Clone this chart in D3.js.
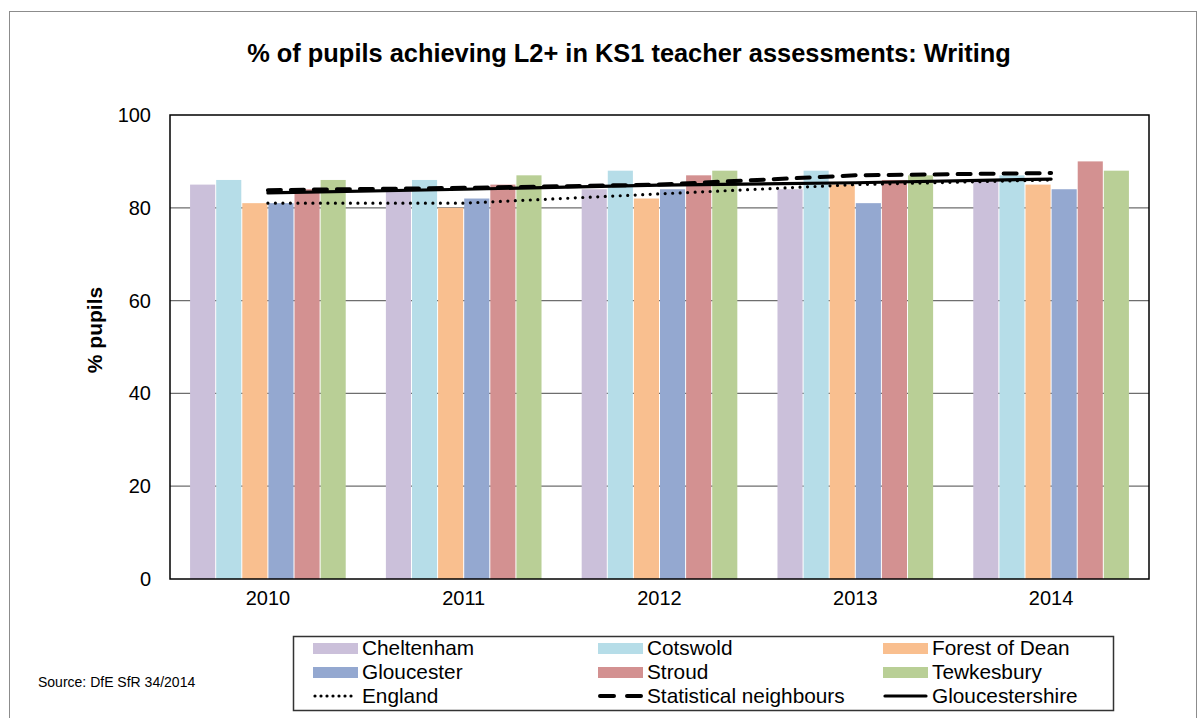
<!DOCTYPE html>
<html>
<head>
<meta charset="utf-8">
<script src="https://cdn.jsdelivr.net/npm/d3@7"></script>
<style>
  html, body { margin: 0; padding: 0; background: #fff; }
  svg { display: block; font-family: "Liberation Sans", Arial, sans-serif; }
</style>
</head>
<body>
<svg id="chart" width="1200" height="718"></svg>
<script>
// KS1 writing: % of pupils achieving level 2+ by district
const years = ["2010", "2011", "2012", "2013", "2014"];
const districts = ["Cheltenham", "Cotswold", "Forest of Dean", "Gloucester", "Stroud", "Tewkesbury"];
const cheltenham   = [85, 84, 84, 84, 86];
const cotswold     = [86, 86, 88, 88, 87];
const forestOfDean = [81, 80, 82, 85, 85];
const gloucester   = [81, 82, 84, 81, 84];
const stroud       = [84, 85, 87, 86, 90];
const tewkesbury   = [86, 87, 88, 87, 88];
const england               = [81, 81, 83, 85, 86];
const statisticalNeighbours = [83.8, 84.3, 85, 87, 87.5];
const gloucestershire       = [83.2, 84, 84.9, 85.4, 86.2];
const yTicks = [0, 20, 40, 60, 80, 100];

const districtValues = [cheltenham, cotswold, forestOfDean, gloucester, stroud, tewkesbury];
const districtColors = ["#cbc0da", "#b6dde8", "#f9bf8f", "#94a8d0", "#d39191", "#b9cf96"];
const lineSeries = [
  { name: "England", values: england, dash: "0 7.5", width: 3.2 },
  { name: "Statistical neighbours", values: statisticalNeighbours, dash: "13 10", width: 4 },
  { name: "Gloucestershire", values: gloucestershire, dash: null, width: 3.2 }
];

const FONT = "Liberation Sans, Arial, sans-serif";
const svg = d3.select("#chart");
const plot = { left: 170, right: 1149, top: 115, bottom: 579 };

// outer frame
svg.append("rect")
  .attr("x", 9.5).attr("y", 11.5).attr("width", 1187).attr("height", 720)
  .attr("fill", "none").attr("stroke", "#8c8c8c").attr("stroke-width", 1);

svg.append("text")
  .attr("x", 629).attr("y", 62)
  .attr("text-anchor", "middle")
  .attr("font-size", 25.4).attr("font-weight", "bold")
  .text("% of pupils achieving L2+ in KS1 teacher assessments: Writing");

const x0 = d3.scaleBand().domain(years).range([plot.left, plot.right]).paddingInner(0.2).paddingOuter(0.1);
const x1 = d3.scaleBand().domain(districts).range([0, x0.bandwidth()]);
const y = d3.scaleLinear().domain([0, 100]).range([plot.bottom, plot.top]);

// gridlines
svg.append("g").selectAll("line")
  .data(yTicks.filter(t => t > 0 && t < 100))
  .join("line")
  .attr("x1", plot.left).attr("x2", plot.right)
  .attr("y1", d => y(d)).attr("y2", d => y(d))
  .attr("stroke", "#6e6e6e").attr("stroke-width", 1.3);

// bars
const groups = svg.append("g").selectAll("g")
  .data(years)
  .join("g")
  .attr("transform", d => `translate(${x0(d)},0)`);

groups.selectAll("rect")
  .data((yr, i) => districts.map((name, k) => ({ name, k, v: districtValues[k][i] })))
  .join("rect")
  .attr("x", d => x1(d.name) + 0.5)
  .attr("width", x1.bandwidth() - 1)
  .attr("y", d => y(d.v))
  .attr("height", d => y(0) - y(d.v))
  .attr("fill", d => districtColors[d.k]);

// comparison lines
const xc = yr => x0(yr) + x0.bandwidth() / 2;
const line = d3.line().x((v, i) => xc(years[i])).y(v => y(v));
lineSeries.forEach(s => {
  svg.append("path")
    .attr("d", line(s.values))
    .attr("fill", "none")
    .attr("stroke", "#000")
    .attr("stroke-width", s.width)
    .attr("stroke-linecap", "round")
    .attr("stroke-dasharray", s.dash);
});

// plot frame
svg.append("rect")
  .attr("x", plot.left).attr("y", plot.top)
  .attr("width", plot.right - plot.left).attr("height", plot.bottom - plot.top)
  .attr("fill", "none").attr("stroke", "#000").attr("stroke-width", 1.5);

// axes
const yAxis = svg.append("g")
  .attr("transform", `translate(${plot.left},0)`)
  .call(d3.axisLeft(y).tickValues(yTicks).tickSize(0).tickPadding(19));
yAxis.select(".domain").remove();
yAxis.selectAll("text").attr("font-size", 20).attr("font-family", FONT).attr("fill", "#000");

const xAxis = svg.append("g")
  .attr("transform", `translate(0,${plot.bottom})`)
  .call(d3.axisBottom(x0).tickSize(0).tickPadding(12));
xAxis.select(".domain").remove();
xAxis.selectAll("text").attr("font-size", 20).attr("font-family", FONT).attr("fill", "#000");

svg.append("text")
  .attr("transform", "translate(102,330) rotate(-90)")
  .attr("text-anchor", "middle")
  .attr("font-size", 21).attr("font-weight", "bold")
  .text("% pupils");

// legend
const legend = svg.append("g");
legend.append("rect")
  .attr("x", 293.5).attr("y", 636.5).attr("width", 820).attr("height", 74)
  .attr("fill", "#fff").attr("stroke", "#333").attr("stroke-width", 1.5);

const legendItems = districts.map((name, k) => ({ name, type: "bar", color: districtColors[k] }))
  .concat(lineSeries.map(s => ({ name: s.name, type: "line", dash: s.dash, width: s.width })));
const colX = [313, 598, 883];
const rowY = [648, 672, 696];
legendItems.forEach((d, i) => {
  const cx = colX[i % 3], cy = rowY[Math.floor(i / 3)];
  if (d.type === "bar") {
    legend.append("rect").attr("x", cx).attr("y", cy - 5).attr("width", 45).attr("height", 11).attr("fill", d.color);
  } else {
    legend.append("line")
      .attr("x1", cx + 2).attr("x2", cx + 43).attr("y1", cy).attr("y2", cy)
      .attr("stroke", "#000").attr("stroke-width", d.width)
      .attr("stroke-linecap", "round")
      .attr("stroke-dasharray", d.dash ? (d.name === "England" ? "0 6" : "14 13") : null);
  }
  legend.append("text")
    .attr("x", cx + 49).attr("y", cy + 7)
    .attr("font-size", 20.8)
    .text(d.name);
});

svg.append("text")
  .attr("x", 38).attr("y", 687)
  .attr("font-size", 14)
  .text("Source: DfE SfR 34/2014");
</script>
</body>
</html>
